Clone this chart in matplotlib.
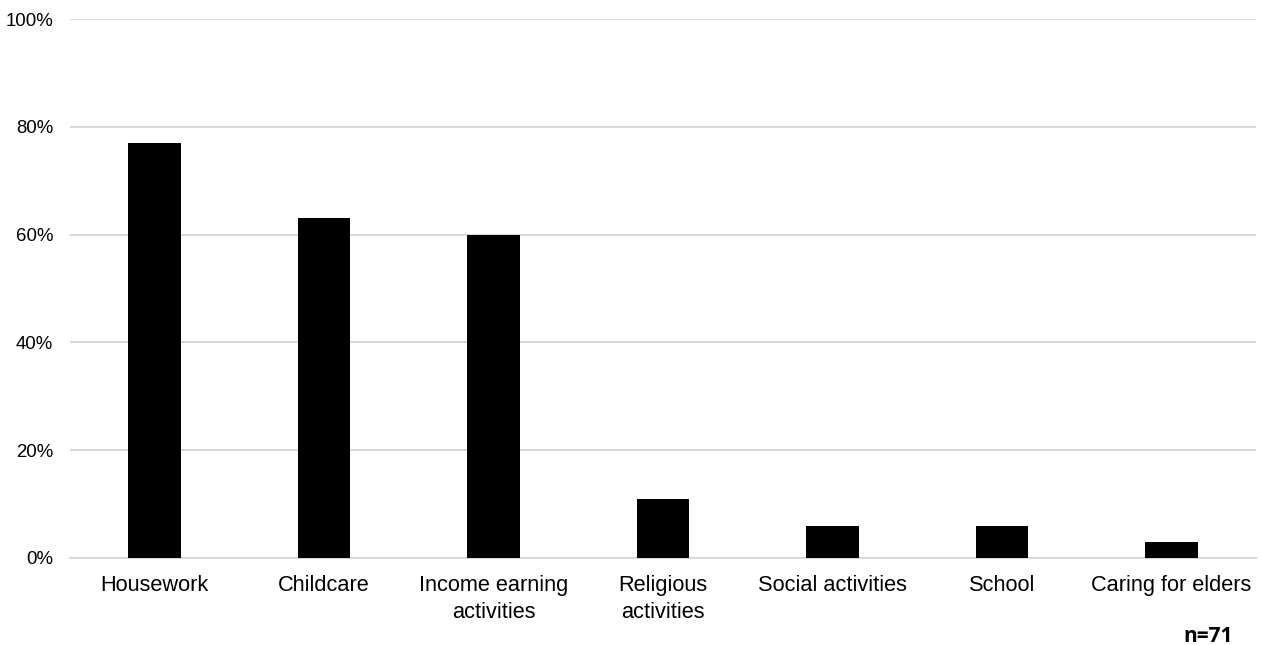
import numpy as np
import matplotlib.pyplot as plt
from matplotlib.ticker import PercentFormatter

categories = ["Housework", "Childcare", "Income earning\nactivities", "Religious\nactivities",
              "Social activities", "School", "Caring for elders"]
shares = [77, 63, 60, 11, 6, 6, 3]
y_ticks = [0, 20, 40, 60, 80, 100]

plt.rcParams['font.family'] = ['Liberation Sans', 'DejaVu Sans']

fig = plt.figure(figsize=(12.61, 6.45), dpi=100)
ax = fig.add_axes([0.0555, 0.1349, 0.9405, 0.8356])

x = np.arange(len(categories))
ax.bar(x, shares, width=0.31, color="black", zorder=3)

ax.set_xlim(-0.5, len(categories) - 0.5)
ax.set_ylim(0, 100)
ax.set_yticks(y_ticks)
ax.yaxis.set_major_formatter(PercentFormatter(decimals=0))
ax.set_xticks(x)
ax.set_xticklabels(categories, fontsize=15.7, linespacing=1.4)
ax.tick_params(axis="x", length=0, pad=12)
ax.tick_params(axis="y", length=0, pad=12, labelsize=13.4)

ax.grid(axis="y", color="#d9d9d9", linewidth=1.5, zorder=0)
for s in ["top", "right", "left"]:
    ax.spines[s].set_visible(False)
ax.spines["bottom"].set_color("#d9d9d9")
ax.spines["bottom"].set_linewidth(1.5)

fig.text(0.958, 0.004, "n=71", fontsize=15, fontweight="bold", ha="center", va="baseline",
         family=["Open Sans", "DejaVu Sans"])

fig.savefig("out.png", dpi=100)
